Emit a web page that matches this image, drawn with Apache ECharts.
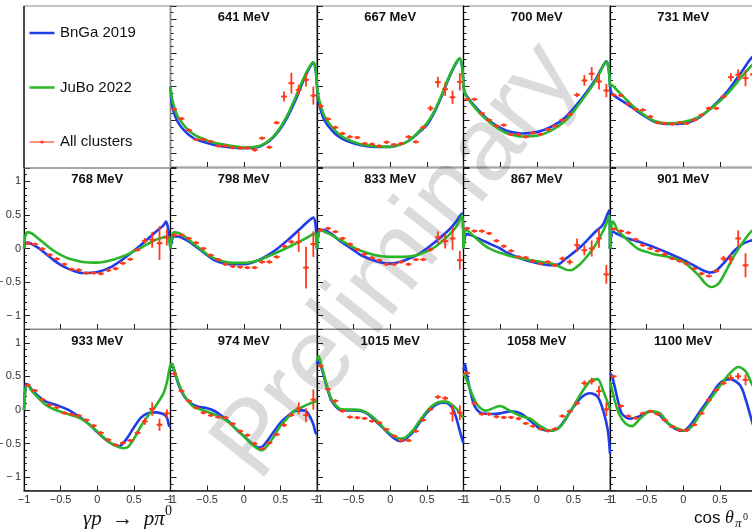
<!DOCTYPE html>
<html><head><meta charset="utf-8">
<script src="https://cdn.jsdelivr.net/npm/echarts@6/dist/echarts.min.js"></script>
<style>html,body{margin:0;padding:0;background:#fff}#c{width:752px;height:529px}</style>
</head><body><div id="c"></div>
<script>
// ---------- data ----------
const energies = ['641 MeV','667 MeV','700 MeV','731 MeV','768 MeV','798 MeV','833 MeV','867 MeV','901 MeV','933 MeV','974 MeV','1015 MeV','1058 MeV','1100 MeV'];
const binX = [-0.95,-0.85,-0.75,-0.65,-0.55,-0.45,-0.35,-0.25,-0.15,-0.05,0.05,0.15,0.25,0.35,0.45,0.55,0.65,0.75,0.85,0.95];
const yTicks = [-1,-0.5,0,0.5,1];

const val641 = [-0.34,-0.48,-0.65,-0.79,-0.79,-0.82,-0.885,-0.885,-0.91,-0.915,-0.915,-0.945,-0.77,-0.905,-0.54,-0.15,0.05,-0.05,0.1,-0.135];
const err641 = [0.02,0.02,0.02,0.02,0.02,0.02,0.02,0.02,0.02,0.02,0.02,0.02,0.02,0.02,0.02,0.075,0.155,0.075,0.1,0.135];
const val667 = [-0.29,-0.485,-0.61,-0.70,-0.75,-0.76,-0.85,-0.86,-0.885,-0.83,-0.865,-0.85,-0.75,-0.825,-0.61,-0.325,0.065,-0.04,-0.16,0.07];
const err667 = [0.03,0.02,0.02,0.02,0.02,0.02,0.02,0.02,0.02,0.02,0.02,0.02,0.02,0.02,0.02,0.04,0.08,0.1,0.1,0.13];
const val700 = [-0.19,-0.19,-0.40,-0.50,-0.59,-0.575,-0.715,-0.715,-0.75,-0.69,-0.71,-0.64,-0.59,-0.5,-0.415,-0.125,0.09,0.19,0.075,-0.06];
const err700 = [0.02,0.02,0.02,0.02,0.02,0.02,0.02,0.02,0.02,0.02,0.02,0.02,0.02,0.02,0.02,0.03,0.08,0.1,0.12,0.1];
const val731 = [-0.125,-0.135,-0.26,-0.34,-0.35,-0.45,-0.54,-0.55,-0.56,-0.54,-0.55,-0.5,-0.425,-0.325,-0.325,-0.15,0.14,0.175,0.125,0.18];
const err731 = [0.02,0.02,0.02,0.02,0.02,0.02,0.02,0.02,0.02,0.02,0.02,0.02,0.02,0.02,0.02,0.03,0.06,0.08,0.12,0.1];
const val768 = [0.075,0.065,-0.005,-0.095,-0.155,-0.235,-0.31,-0.32,-0.365,-0.365,-0.375,-0.325,-0.3,-0.22,-0.16,-0.02,0.115,0.13,0.08,0.165];
const err768 = [0.02,0.02,0.02,0.02,0.02,0.02,0.02,0.02,0.02,0.02,0.02,0.02,0.02,0.02,0.02,0.02,0.04,0.12,0.25,0.12];
const val798 = [0.2,0.2,0.15,0.085,0,-0.1,-0.165,-0.235,-0.265,-0.275,-0.285,-0.285,-0.2,-0.2,-0.125,0.035,0.1,0.1,-0.285,0.065];
const err798 = [0.02,0.02,0.02,0.02,0.02,0.02,0.02,0.02,0.02,0.02,0.02,0.02,0.02,0.02,0.02,0.02,0.03,0.15,0.31,0.19];
const val833 = [0.275,0.3,0.25,0.15,0.065,-0.015,-0.085,-0.14,-0.175,-0.235,-0.235,-0.2,-0.235,-0.165,-0.165,-0.015,0.165,0.11,0.15,-0.175];
const err833 = [0.02,0.02,0.02,0.02,0.02,0.02,0.02,0.02,0.02,0.02,0.02,0.02,0.02,0.02,0.02,0.03,0.09,0.11,0.17,0.14];
const val867 = [0.3,0.26,0.26,0.225,0.115,0.035,-0.035,-0.125,-0.135,-0.185,-0.225,-0.2,-0.25,-0.15,-0.2,0.05,-0.025,0,0.15,-0.385];
const err867 = [0.02,0.02,0.02,0.02,0.02,0.02,0.02,0.02,0.02,0.02,0.02,0.02,0.02,0.03,0.04,0.1,0.075,0.12,0.14,0.14];
const val901 = [0.29,0.26,0.235,0.135,0.05,0,-0.035,-0.085,-0.15,-0.185,-0.225,-0.3,-0.375,-0.41,-0.335,-0.15,-0.16,0.15,-0.25];
const err901 = [0.02,0.02,0.02,0.02,0.02,0.02,0.02,0.02,0.02,0.02,0.02,0.02,0.02,0.02,0.03,0.04,0.075,0.12,0.18];
const val933 = [0.37,0.29,0.155,0.075,0.04,-0.045,-0.065,-0.085,-0.15,-0.235,-0.34,-0.445,-0.52,-0.49,-0.455,-0.34,-0.17,0.015,-0.22,-0.05];
const err933 = [0.02,0.02,0.02,0.02,0.02,0.02,0.02,0.02,0.02,0.02,0.02,0.02,0.02,0.02,0.02,0.03,0.05,0.1,0.09,0.06];
const val974 = [0.54,0.285,0.135,0.035,-0.04,-0.08,-0.105,-0.115,-0.205,-0.315,-0.375,-0.5,-0.575,-0.49,-0.365,-0.225,-0.075,0.025,-0.075,0.155];
const err974 = [0.02,0.02,0.02,0.02,0.02,0.02,0.02,0.02,0.02,0.02,0.02,0.02,0.02,0.02,0.02,0.03,0.03,0.09,0.1,0.15];
const val1015 = [0.655,0.31,0.135,-0.015,-0.105,-0.115,-0.125,-0.165,-0.19,-0.29,-0.39,-0.455,-0.455,-0.315,-0.15,0.01,0.195,0.175,-0.05,-0.04];
const err1015 = [0.02,0.02,0.02,0.02,0.02,0.02,0.02,0.02,0.02,0.02,0.02,0.02,0.02,0.02,0.02,0.02,0.03,0.03,0.12,0.11];
const val1058 = [0.55,0.1,-0.06,-0.06,-0.1,-0.11,-0.11,-0.13,-0.2,-0.24,-0.28,-0.31,-0.28,-0.09,-0.02,0.1,0.4,0.43,0.28,0.01];
const err1058 = [0.02,0.02,0.02,0.02,0.02,0.02,0.02,0.02,0.02,0.02,0.02,0.02,0.02,0.02,0.02,0.03,0.04,0.05,0.08,0.1];
const val1100 = [0.5,0.06,-0.09,-0.12,-0.05,-0.02,-0.06,-0.15,-0.25,-0.3,-0.3,-0.22,-0.05,0.15,0.3,0.4,0.48,0.5,0.45];
const err1100 = [0.02,0.02,0.02,0.02,0.02,0.02,0.02,0.02,0.02,0.02,0.02,0.02,0.02,0.02,0.02,0.03,0.04,0.05,0.08];

const bnga641 = [[-1,0],[-0.98,-0.27],[-0.95,-0.4],[-0.9,-0.53],[-0.8,-0.67],[-0.7,-0.76],[-0.6,-0.81],[-0.4,-0.87],[-0.2,-0.905],[0,-0.92],[0.2,-0.9],[0.3,-0.85],[0.4,-0.76],[0.5,-0.63],[0.6,-0.45],[0.7,-0.22],[0.8,0.05],[0.9,0.28],[0.95,0.35],[0.98,0.25],[1,0]];
const jubo641 = [[-1,0],[-0.98,-0.18],[-0.95,-0.3],[-0.9,-0.45],[-0.8,-0.6],[-0.7,-0.7],[-0.6,-0.76],[-0.4,-0.84],[-0.2,-0.88],[0,-0.91],[0.2,-0.89],[0.3,-0.84],[0.4,-0.75],[0.5,-0.61],[0.6,-0.42],[0.7,-0.18],[0.8,0.08],[0.9,0.3],[0.95,0.36],[0.98,0.27],[1,0]];
const bnga667 = [[-1,0],[-0.98,-0.22],[-0.95,-0.35],[-0.9,-0.5],[-0.8,-0.65],[-0.7,-0.75],[-0.6,-0.81],[-0.4,-0.875],[-0.2,-0.9],[0,-0.9],[0.2,-0.84],[0.3,-0.77],[0.4,-0.675],[0.5,-0.575],[0.6,-0.39],[0.7,-0.15],[0.8,0.125],[0.9,0.35],[0.95,0.41],[0.98,0.3],[1,0]];
const jubo667 = [[-1,0],[-0.98,-0.15],[-0.95,-0.28],[-0.9,-0.44],[-0.8,-0.6],[-0.7,-0.71],[-0.6,-0.78],[-0.4,-0.86],[-0.2,-0.89],[0,-0.9],[0.2,-0.84],[0.3,-0.77],[0.4,-0.66],[0.5,-0.55],[0.6,-0.37],[0.7,-0.13],[0.8,0.14],[0.9,0.36],[0.95,0.42],[0.98,0.31],[1,0]];
const bnga700 = [[-1,0],[-0.98,-0.1],[-0.95,-0.15],[-0.9,-0.225],[-0.8,-0.35],[-0.7,-0.46],[-0.6,-0.55],[-0.5,-0.615],[-0.4,-0.665],[-0.2,-0.7],[0,-0.68],[0.2,-0.6],[0.4,-0.45],[0.6,-0.2],[0.8,0.1],[0.9,0.3],[0.95,0.375],[0.98,0.28],[1,0]];
const jubo700 = [[-1,0],[-0.98,-0.1],[-0.95,-0.16],[-0.9,-0.24],[-0.8,-0.37],[-0.7,-0.48],[-0.6,-0.57],[-0.5,-0.645],[-0.4,-0.7],[-0.2,-0.745],[0,-0.735],[0.2,-0.655],[0.4,-0.5],[0.6,-0.23],[0.8,0.08],[0.9,0.29],[0.95,0.37],[0.98,0.28],[1,0]];
const bnga731 = [[-1,0],[-0.98,-0.1],[-0.95,-0.13],[-0.9,-0.17],[-0.8,-0.24],[-0.7,-0.31],[-0.6,-0.39],[-0.5,-0.46],[-0.4,-0.52],[-0.2,-0.56],[0,-0.55],[0.2,-0.475],[0.4,-0.3],[0.6,-0.075],[0.8,0.225],[0.9,0.385],[0.95,0.45],[1,0.5]];
const jubo731 = [[-1,0],[-0.98,0.02],[-0.95,0.0],[-0.9,-0.06],[-0.8,-0.17],[-0.7,-0.28],[-0.6,-0.37],[-0.5,-0.45],[-0.4,-0.51],[-0.2,-0.55],[0,-0.53],[0.2,-0.46],[0.4,-0.31],[0.6,-0.11],[0.8,0.15],[0.9,0.275],[0.95,0.33],[1,0.38]];
const bnga768 = [[-1,0],[-0.98,0.08],[-0.95,0.09],[-0.9,0.07],[-0.8,0.005],[-0.7,-0.08],[-0.6,-0.17],[-0.5,-0.245],[-0.4,-0.3],[-0.2,-0.365],[0,-0.35],[0.2,-0.27],[0.4,-0.12],[0.6,0.055],[0.8,0.25],[0.9,0.34],[0.94,0.4],[0.97,0.28],[1,0]];
const jubo768 = [[-1,0],[-0.98,0.2],[-0.95,0.24],[-0.9,0.23],[-0.8,0.145],[-0.7,0.055],[-0.6,-0.03],[-0.5,-0.095],[-0.4,-0.145],[-0.2,-0.2],[0,-0.21],[0.2,-0.17],[0.4,-0.095],[0.6,0.015],[0.8,0.13],[0.9,0.165],[0.94,0.18],[0.97,0.17],[1,0]];
const bnga798 = [[-1,0],[-0.98,0.13],[-0.95,0.18],[-0.9,0.18],[-0.8,0.135],[-0.7,0.065],[-0.6,-0.015],[-0.5,-0.1],[-0.4,-0.175],[-0.2,-0.235],[0,-0.235],[0.2,-0.175],[0.4,-0.05],[0.6,0.125],[0.8,0.325],[0.9,0.425],[0.95,0.46],[0.98,0.35],[1,0]];
const jubo798 = [[-1,0],[-0.98,0.18],[-0.95,0.24],[-0.9,0.235],[-0.8,0.175],[-0.7,0.085],[-0.6,0],[-0.5,-0.085],[-0.4,-0.15],[-0.2,-0.21],[0,-0.215],[0.2,-0.175],[0.4,-0.085],[0.6,0.015],[0.8,0.125],[0.9,0.185],[0.95,0.215],[0.98,0.22],[1,0]];
const bnga833 = [[-1,0],[-0.98,0.22],[-0.95,0.28],[-0.9,0.275],[-0.8,0.215],[-0.7,0.125],[-0.6,0.05],[-0.5,-0.025],[-0.4,-0.1],[-0.2,-0.185],[0,-0.225],[0.2,-0.175],[0.4,-0.075],[0.6,0.085],[0.8,0.275],[0.9,0.4],[0.96,0.5],[0.985,0.52],[1,0]];
const jubo833 = [[-1,0],[-0.98,0.22],[-0.95,0.28],[-0.9,0.25],[-0.8,0.2],[-0.7,0.135],[-0.6,0.075],[-0.5,0.015],[-0.4,-0.035],[-0.2,-0.1],[0,-0.125],[0.2,-0.125],[0.4,-0.085],[0.6,0.015],[0.8,0.2],[0.9,0.325],[0.96,0.45],[0.985,0.5],[1,0]];
const bnga867 = [[-1,0],[-0.98,0.175],[-0.95,0.215],[-0.9,0.2],[-0.8,0.15],[-0.7,0.1],[-0.6,0.05],[-0.5,0],[-0.4,-0.065],[-0.2,-0.155],[0,-0.215],[0.2,-0.25],[0.3,-0.235],[0.4,-0.15],[0.6,0.025],[0.8,0.25],[0.9,0.35],[0.96,0.5],[0.99,0.57],[1,0]];
const jubo867 = [[-1,0],[-0.98,0.25],[-0.96,0.275],[-0.9,0.225],[-0.8,0.125],[-0.7,0.035],[-0.6,-0.025],[-0.5,-0.065],[-0.4,-0.1],[-0.2,-0.15],[0,-0.19],[0.2,-0.225],[0.3,-0.265],[0.4,-0.315],[0.47,-0.325],[0.55,-0.27],[0.6,-0.225],[0.7,-0.1],[0.8,0.05],[0.9,0.25],[0.96,0.4],[0.99,0.5],[1,0]];
const bnga901 = [[-1,0],[-0.98,0.22],[-0.96,0.25],[-0.9,0.215],[-0.8,0.165],[-0.7,0.13],[-0.6,0.1],[-0.5,0.06],[-0.4,0.02],[-0.2,-0.07],[0,-0.17],[0.2,-0.285],[0.3,-0.34],[0.37,-0.36],[0.45,-0.33],[0.6,-0.16],[0.7,-0.03],[0.8,0.06],[0.9,0.11],[1,0.135]];
const jubo901 = [[-1,0],[-0.98,0.35],[-0.96,0.4],[-0.93,0.35],[-0.9,0.275],[-0.8,0.165],[-0.7,0.065],[-0.6,-0.015],[-0.5,-0.05],[-0.4,-0.085],[-0.2,-0.125],[0,-0.2],[0.2,-0.39],[0.3,-0.52],[0.38,-0.575],[0.45,-0.55],[0.5,-0.5],[0.6,-0.3],[0.7,-0.1],[0.8,0.07],[0.9,0.22],[1,0.33]];
const bnga933 = [[-1,0],[-0.98,0.34],[-0.96,0.385],[-0.93,0.36],[-0.9,0.31],[-0.8,0.2],[-0.7,0.125],[-0.6,0.09],[-0.5,0.05],[-0.4,0.005],[-0.3,-0.06],[-0.2,-0.135],[-0.1,-0.225],[0,-0.33],[0.1,-0.43],[0.2,-0.505],[0.3,-0.54],[0.4,-0.43],[0.5,-0.26],[0.6,-0.11],[0.7,-0.045],[0.8,-0.035],[0.9,-0.06],[0.95,-0.11],[0.98,-0.23],[1,-0.25]];
const jubo933 = [[-1,0],[-0.98,0.31],[-0.96,0.37],[-0.93,0.35],[-0.9,0.29],[-0.8,0.175],[-0.7,0.075],[-0.6,0.015],[-0.5,-0.025],[-0.4,-0.06],[-0.3,-0.095],[-0.2,-0.145],[-0.1,-0.225],[0,-0.32],[0.1,-0.42],[0.2,-0.505],[0.3,-0.555],[0.36,-0.57],[0.42,-0.55],[0.5,-0.43],[0.6,-0.235],[0.7,-0.075],[0.8,0.065],[0.9,0.24],[0.95,0.41],[0.98,0.58],[1,0.68]];
const bnga974 = [[-1,0.63],[-0.98,0.67],[-0.96,0.63],[-0.9,0.41],[-0.85,0.275],[-0.8,0.185],[-0.7,0.085],[-0.6,0.045],[-0.5,0.025],[-0.4,-0.015],[-0.3,-0.09],[-0.2,-0.175],[-0.1,-0.29],[0,-0.39],[0.1,-0.49],[0.2,-0.56],[0.25,-0.55],[0.3,-0.49],[0.4,-0.34],[0.5,-0.19],[0.6,-0.09],[0.7,-0.015],[0.8,-0.005],[0.85,-0.015],[0.9,-0.09],[0.95,-0.215],[0.98,-0.34],[1,-0.36]];
const jubo974 = [[-1,0.68],[-0.98,0.69],[-0.96,0.63],[-0.9,0.43],[-0.85,0.295],[-0.8,0.195],[-0.7,0.06],[-0.6,0.01],[-0.5,-0.025],[-0.4,-0.065],[-0.3,-0.115],[-0.2,-0.19],[-0.1,-0.29],[0,-0.39],[0.1,-0.5],[0.2,-0.585],[0.25,-0.6],[0.3,-0.56],[0.4,-0.415],[0.5,-0.24],[0.6,-0.115],[0.7,-0.005],[0.8,0.045],[0.9,0.095],[1,0.135]];
const bnga1015 = [[-1,0.68],[-0.98,0.755],[-0.96,0.705],[-0.9,0.48],[-0.85,0.285],[-0.8,0.135],[-0.7,0.01],[-0.6,-0.005],[-0.5,-0.005],[-0.4,-0.015],[-0.3,-0.065],[-0.2,-0.165],[-0.1,-0.265],[0,-0.375],[0.1,-0.455],[0.15,-0.465],[0.2,-0.44],[0.3,-0.34],[0.4,-0.19],[0.5,-0.04],[0.6,0.06],[0.7,0.11],[0.75,0.11],[0.8,0.085],[0.85,0.025],[0.9,-0.115],[0.95,-0.315],[0.99,-0.465],[1,-0.49]];
const jubo1015 = [[-1,0.73],[-0.98,0.805],[-0.96,0.755],[-0.9,0.505],[-0.85,0.31],[-0.8,0.16],[-0.7,0.025],[-0.6,0.005],[-0.5,0.005],[-0.4,-0.005],[-0.3,-0.055],[-0.2,-0.14],[-0.1,-0.255],[0,-0.355],[0.1,-0.415],[0.15,-0.425],[0.2,-0.415],[0.3,-0.315],[0.4,-0.165],[0.5,-0.015],[0.6,0.085],[0.7,0.125],[0.75,0.125],[0.8,0.11],[0.9,0.025],[0.95,-0.055],[1,-0.115]];
const bnga1058 = [[-1,0.6],[-0.98,0.68],[-0.95,0.5],[-0.9,0.25],[-0.85,0.06],[-0.75,-0.05],[-0.6,-0.06],[-0.5,-0.05],[-0.36,-0.02],[-0.22,-0.05],[-0.09,-0.16],[0.05,-0.28],[0.19,-0.31],[0.32,-0.24],[0.46,-0.02],[0.6,0.18],[0.73,0.25],[0.83,0.2],[0.91,-0.02],[0.97,-0.3],[1,-0.65]];
const jubo1058 = [[-1,0.55],[-0.95,0.43],[-0.87,0.2],[-0.8,0.06],[-0.7,-0.01],[-0.5,0.06],[-0.4,0.01],[-0.22,-0.09],[-0.09,-0.13],[0.05,-0.24],[0.19,-0.31],[0.32,-0.25],[0.46,-0.02],[0.6,0.24],[0.73,0.43],[0.83,0.46],[0.91,0.28],[1,0.01]];
const bnga1100 = [[-1,0.55],[-0.97,0.5],[-0.89,0.13],[-0.84,-0.05],[-0.73,-0.13],[-0.59,-0.09],[-0.45,-0.02],[-0.34,-0.06],[-0.25,-0.16],[-0.11,-0.28],[0,-0.31],[0.1,-0.22],[0.23,-0.02],[0.37,0.2],[0.5,0.4],[0.64,0.46],[0.78,0.36],[0.86,0.13],[0.92,-0.1],[1,-0.4]];
const jubo1100 = [[-1,0.43],[-0.95,0.2],[-0.88,-0.05],[-0.79,-0.2],[-0.7,-0.24],[-0.59,-0.13],[-0.45,-0.02],[-0.32,-0.05],[-0.2,-0.2],[-0.07,-0.28],[0.03,-0.31],[0.12,-0.24],[0.23,-0.06],[0.37,0.16],[0.5,0.36],[0.64,0.55],[0.75,0.64],[0.85,0.58],[0.95,0.36],[1,0.3]];

const legendNames = ['BnGa 2019','JuBo 2022','All clusters'];

// ---------- assembly ----------
const vals = [val641,val667,val700,val731,val768,val798,val833,val867,val901,val933,val974,val1015,val1058,val1100];
const errs = [err641,err667,err700,err731,err768,err798,err833,err867,err901,err933,err974,err1015,err1058,err1100];
const bngas = [bnga641,bnga667,bnga700,bnga731,bnga768,bnga798,bnga833,bnga867,bnga901,bnga933,bnga974,bnga1015,bnga1058,bnga1100];
const jubos = [jubo641,jubo667,jubo700,jubo731,jubo768,jubo798,jubo833,jubo867,jubo901,jubo933,jubo974,jubo1015,jubo1058,jubo1100];

const BLUE = '#1f3ce8', GREEN = '#2ab52a', RED = '#ff3a1a';
const colLeft = [24, 170.5, 317, 463.5, 610];
const rowTop = [6, 168, 329.5];
const W = 146.5, H = 161;
const FONT = '"Liberation Sans", Arial, sans-serif';

const fmtNum = v => v < 0 ? '\u2212' + String(-v) : String(v);
const fmtY = v => v < 0 ? '\u2212\u2009' + String(-v) : String(v);

const grid = [], xAxis = [], yAxis = [], series = [], graphic = [];
energies.forEach((name, k) => {
  const slot = k + 1, col = slot % 5, row = Math.floor(slot / 5);
  const bottom = row === 2, leftCol = col === 0;
  grid.push({left: colLeft[col], top: rowTop[row], width: W, height: H, show: true,
             containLabel: false, outerBoundsMode: 'none',
             borderColor: '#8a8a8a', borderWidth: 1.2, backgroundColor: 'transparent'});
  xAxis.push({gridIndex: k, type: 'value', min: -1, max: 1, interval: 0.5,
    axisLine: {show: bottom, onZero: false, lineStyle: {color: '#222', width: 1.5}},
    axisTick: {show: true, inside: true, length: 5, lineStyle: {color: '#222', width: 1}},
    axisLabel: {show: bottom, margin: 4, fontSize: 11, color: '#333', fontFamily: FONT, formatter: fmtNum},
    splitLine: {show: false}});
  yAxis.push({gridIndex: k, type: 'value', min: -1.2, max: 1.2, splitNumber: 5,
    axisLine: {show: true, onZero: false, lineStyle: {color: '#000', width: 1.2}},
    axisTick: {show: true, inside: true, length: 6, lineStyle: {color: '#222', width: 1}},
    minorTick: {show: true, splitNumber: 5, length: 3, lineStyle: {color: '#222', width: 1}},
    axisLabel: {show: leftCol, margin: 3, fontSize: 11, color: '#333', fontFamily: FONT,
      showMinLabel: false, showMaxLabel: false,
      formatter: v => yTicks.some(t => Math.abs(t - v) < 1e-6) ? fmtY(Math.round(v * 10) / 10) : ''},
    splitLine: {show: false}});
  series.push({type: 'line', xAxisIndex: k, yAxisIndex: k, data: bngas[k], showSymbol: false, symbol: 'none',
    smooth: 0.3, lineStyle: {color: BLUE, width: 2.6}, z: 3, silent: true, animation: false});
  series.push({type: 'line', xAxisIndex: k, yAxisIndex: k, data: jubos[k], showSymbol: false, symbol: 'none',
    smooth: 0.3, lineStyle: {color: GREEN, width: 2.6}, z: 4, silent: true, animation: false});
  const pts = vals[k].map((v, i) => [binX[i], v, errs[k][i]]);
  series.push({type: 'custom', xAxisIndex: k, yAxisIndex: k, data: pts, z: 5, silent: true, animation: false,
    clip: true,
    encode: {x: 0, y: 1},
    renderItem: (params, api) => {
      const x = api.value(0), y = api.value(1), e = api.value(2);
      const c = api.coord([x, y]), l = api.coord([x - 0.04, y]), r = api.coord([x + 0.04, y]);
      const t = api.coord([x, y + e]), b = api.coord([x, y - e]);
      return {type: 'group', children: [
        {type: 'line', shape: {x1: l[0], y1: c[1], x2: r[0], y2: c[1]}, style: {stroke: RED, lineWidth: 1.8}},
        {type: 'line', shape: {x1: c[0], y1: Math.min(t[1], c[1] - 1.5), x2: c[0], y2: Math.max(b[1], c[1] + 1.5)}, style: {stroke: RED, lineWidth: 1.8}},
        {type: 'circle', shape: {cx: c[0], cy: c[1], r: 1.6}, style: {fill: RED}}
      ]};
    }});
  graphic.push({type: 'text', x: colLeft[col] + W / 2, y: rowTop[row] + 11.5, z: 10,
    style: {text: name, font: 'bold 13px ' + FONT, fill: '#111', textAlign: 'center', textVerticalAlign: 'middle', align: 'center', verticalAlign: 'middle'}});
});

// legend box (top-left pad)
graphic.push({type: 'rect', shape: {x: 24, y: 6, width: W, height: 162}, style: {fill: 'none', stroke: '#8a8a8a', lineWidth: 1.2}, z: 1});
graphic.push({type: 'line', shape: {x1: 24, y1: 6, x2: 24, y2: 168}, style: {stroke: '#000', lineWidth: 1.2}, z: 2});
const legY = [33, 87.5, 142];
const legCol = [BLUE, GREEN, RED];
legendNames.forEach((n, i) => {
  graphic.push({type: 'line', shape: {x1: 29.5, y1: legY[i], x2: 54.5, y2: legY[i]},
    style: {stroke: i === 2 ? '#ff7a5c' : legCol[i], lineWidth: i === 2 ? 1.6 : 2.5}, z: 5});
  if (i === 2) graphic.push({type: 'circle', shape: {cx: 42, cy: legY[i], r: 1.6}, style: {fill: RED}, z: 6});
  graphic.push({type: 'text', x: 60, y: legY[i], z: 5,
    style: {text: n, font: '15px ' + FONT, fill: '#111', textAlign: 'left', textVerticalAlign: 'middle', align: 'left', verticalAlign: 'middle'}});
});

// watermark
graphic.push({type: 'text', x: 398, y: 262, rotation: 0.9, z: 0,
  style: {text: 'Preliminary', font: '104px ' + FONT, fill: 'rgba(0,0,0,0.14)', textAlign: 'center', textVerticalAlign: 'middle', align: 'center', verticalAlign: 'middle'}});

// axis titles
graphic.push({type: 'text', x: 83, y: 519, z: 5,
  style: {text: '\u03B3p  \u2192  p\u03C0', font: 'italic 21px "Liberation Serif", serif', fill: '#111', textAlign: 'left', textVerticalAlign: 'middle', align: 'left', verticalAlign: 'middle'}});
graphic.push({type: 'text', x: 165, y: 511, z: 5,
  style: {text: '0', font: '14px "Liberation Serif", serif', fill: '#111', textAlign: 'left', textVerticalAlign: 'middle', align: 'left', verticalAlign: 'middle'}});
graphic.push({type: 'text', x: 694, y: 518, z: 5,
  style: {text: 'cos', font: '17px ' + FONT, fill: '#111', textAlign: 'left', textVerticalAlign: 'middle', align: 'left', verticalAlign: 'middle'}});
graphic.push({type: 'text', x: 725, y: 518, z: 5,
  style: {text: '\u03B8', font: 'italic 18px "Liberation Serif", serif', fill: '#111', textAlign: 'left', textVerticalAlign: 'middle', align: 'left', verticalAlign: 'middle'}});
graphic.push({type: 'text', x: 735, y: 524, z: 5,
  style: {text: '\u03C0', font: 'italic 13px "Liberation Serif", serif', fill: '#111', textAlign: 'left', textVerticalAlign: 'middle', align: 'left', verticalAlign: 'middle'}});
graphic.push({type: 'text', x: 743, y: 517, z: 5,
  style: {text: '0', font: '10px "Liberation Serif", serif', fill: '#111', textAlign: 'left', textVerticalAlign: 'middle', align: 'left', verticalAlign: 'middle'}});

const chart = echarts.init(document.getElementById('c'), null, {renderer: 'canvas'});
chart.setOption({animation: false, backgroundColor: '#fff', grid, xAxis, yAxis, series, graphic});
</script></body></html>
